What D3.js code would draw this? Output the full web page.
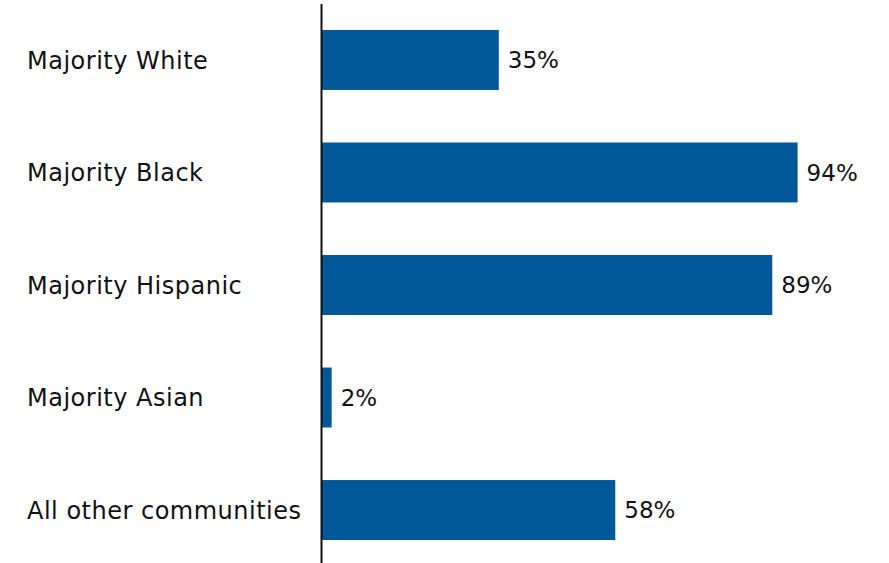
<!DOCTYPE html>
<html>
<head>
<meta charset="utf-8">
<script src="https://cdn.jsdelivr.net/npm/d3@7"></script>
<style>
  html, body { margin: 0; padding: 0; background: #fff; }
  svg { display: block; }
  text { font-family: "DejaVu Sans", sans-serif; fill: #111; }
</style>
</head>
<body>
<svg id="chart" width="889" height="563"></svg>
<script>
const categories = ["Majority White", "Majority Black", "Majority Hispanic", "Majority Asian", "All other communities"];
const values = [35, 94, 89, 2, 58];
const valueLabels = ["35%", "94%", "89%", "2%", "58%"];

const width = 889, height = 563;
const axisX = 321.5;
const svg = d3.select("#chart");

const x = d3.scaleLinear().domain([0, 100]).range([axisX, axisX + 506.5]);
const y = d3.scaleBand().domain(categories).range([3.75, 566.25]).paddingInner(0.467).paddingOuter(0.233);

const data = categories.map((c, i) => ({ cat: c, value: values[i], label: valueLabels[i] }));

svg.selectAll("rect.bar").data(data).join("rect")
  .attr("class", "bar")
  .attr("x", x(0))
  .attr("y", d => y(d.cat))
  .attr("width", d => x(d.value) - x(0))
  .attr("height", y.bandwidth())
  .attr("fill", "#005899");

svg.selectAll("text.val").data(data).join("text")
  .attr("class", "val")
  .attr("x", d => x(d.value) + 9)
  .attr("y", d => y(d.cat) + y.bandwidth() / 2)
  .attr("dy", "0.36em")
  .style("font-size", "23px")
  .text(d => d.label);

svg.selectAll("text.cat").data(data).join("text")
  .attr("class", "cat")
  .attr("x", 27)
  .attr("y", d => y(d.cat) + y.bandwidth() / 2)
  .attr("dy", "0.36em")
  .style("font-size", "24px")
  .style("letter-spacing", "0.5px")
  .text(d => d.cat);

// vertical category axis line
svg.append("line")
  .attr("x1", axisX).attr("x2", axisX)
  .attr("y1", 4).attr("y2", height)
  .attr("stroke", "#111").attr("stroke-width", 2);
</script>
</body>
</html>
